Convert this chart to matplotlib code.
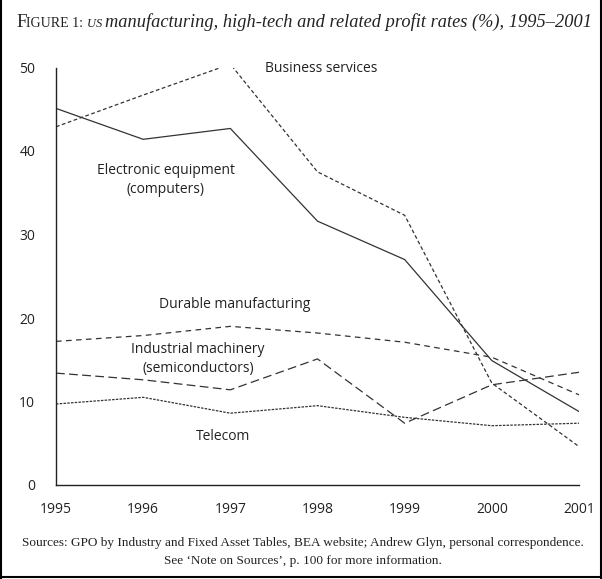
import matplotlib
matplotlib.use("Agg")
import matplotlib.pyplot as plt
from matplotlib.lines import Line2D

years = [1995, 1996, 1997, 1998, 1999, 2000, 2001]
electronic = [45.1, 41.4, 42.7, 31.6, 27.0, 14.9, 8.8]
business = [42.9, 46.7, 50.4, 37.5, 32.3, 12.2, 4.6]
durable = [17.2, 17.9, 19.0, 18.2, 17.1, 15.3, 10.8]
industrial = [13.4, 12.6, 11.4, 15.1, 7.4, 12.0, 13.5]
telecom = [9.7, 10.5, 8.6, 9.5, 8.1, 7.1, 7.4]
yticks = [0, 10, 20, 30, 40, 50]

W, H = 602, 579
fig = plt.figure(figsize=(W / 100, H / 100), dpi=100)
ax = fig.add_axes([56 / W, 1 - 485 / H, (579 - 56) / W, (485 - 67.5) / H])

col = "#333333"
lw = 0.9
ax.plot(years, electronic, color=col, lw=lw, ls="-")
ax.plot(years, business, color=col, lw=lw, ls=(0, (3, 2)))
ax.plot(years, durable, color=col, lw=lw, ls=(0, (4.5, 3.5)))
ax.plot(years, industrial, color=col, lw=lw, ls=(0, (7, 3.5)))
ax.plot(years, telecom, color=col, lw=lw, ls=(0, (2, 1)))

ax.set_xlim(1995, 2001)
ax.set_ylim(0, 50)
ax.set_xticks(years)
ax.set_yticks(yticks)
for s in ["top", "right"]:
    ax.spines[s].set_visible(False)
for s in ["left", "bottom"]:
    ax.spines[s].set_color("#222222")
    ax.spines[s].set_linewidth(1.0)
ax.tick_params(length=0, labelsize=10, colors="#222222")
ax.tick_params(axis="x", pad=12)
ax.tick_params(axis="y", pad=15)
for lab in ax.get_xticklabels() + ax.get_yticklabels():
    lab.set_family("Open Sans")

lbl = dict(fontsize=10, family="Open Sans", color="#222222", va="center", ha="center",
           linespacing=1.3)
def px(x, y):
    return (x / W, 1 - y / H)
fig.text(*px(321, 68), "Business services", **lbl)
fig.text(*px(166, 180), "Electronic equipment\n(computers)", **lbl)
fig.text(*px(235, 305), "Durable manufacturing", **lbl)
fig.text(*px(198, 359), "Industrial machinery\n(semiconductors)", **lbl)
fig.text(*px(223, 437), "Telecom", **lbl)

# title pieces chained
fig.canvas.draw()
r = fig.canvas.get_renderer()
pieces = [
    ("F", 13.7, "normal"),
    ("IGURE 1: ", 10, "normal"),
    ("US ", 9, "italic"),
    ("manufacturing, high-tech and related profit rates (%), 1995–2001", 13.2, "italic"),
]
x0 = 16
ybase = 1 - 27 / H
x = x0 / W
for txt, sz, st in pieces:
    t = fig.text(x, ybase, txt, fontsize=sz, style=st, family="Liberation Serif",
                 color="#222222", va="baseline", ha="left")
    bb = t.get_window_extent(renderer=r)
    x += bb.width / W

src = dict(fontsize=9.5, family="Liberation Serif", color="#222222", ha="center", va="center")
fig.text(*px(303, 543), "Sources: GPO by Industry and Fixed Asset Tables, BEA website; Andrew Glyn, personal correspondence.", **src)
fig.text(*px(303, 561), "See ‘Note on Sources’, p. 100 for more information.", **src)

# border
for xs, ys in [((0.75 / W, 0.75 / W), (0, 1)), ((1 - 1.5 / W, 1 - 1.5 / W), (0, 1)),
               ((0, 1), (2 / H, 2 / H))]:
    fig.add_artist(Line2D(xs, ys, color="black", lw=1.5, transform=fig.transFigure))

fig.savefig("out.png", dpi=100)
